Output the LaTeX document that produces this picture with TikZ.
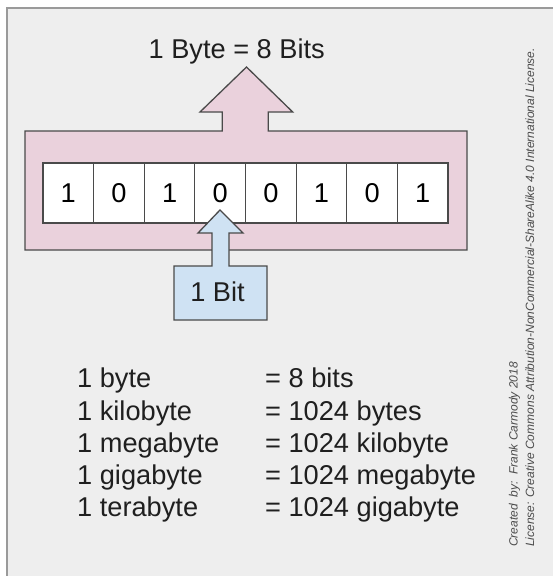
\documentclass[tikz,border=0pt]{standalone}
\usepackage{fontspec}
\setmainfont{Liberation Sans}
\definecolor{bggray}{HTML}{EEEEEE}
\definecolor{framegray}{HTML}{9A9A9A}
\definecolor{pinkfill}{HTML}{EAD1DC}
\definecolor{bluefill}{HTML}{CFE2F3}
\definecolor{edgegray}{HTML}{4A4A4A}
\tikzset{
  shapeline/.style={draw=edgegray, line width=1.3pt, line join=miter},
  cellbox/.style={draw=edgegray, line width=1.1pt, fill=white, minimum width=50.625pt, minimum height=60pt, inner sep=0pt, font=\fontsize{27.2}{31}\selectfont},
  bigtext/.style={inner sep=0pt, font=\fontsize{27.2}{31}\selectfont, text=black!88},
  credit/.style={inner sep=0pt, rotate=90, anchor=base west, font=\fontsize{12}{14}\selectfont\itshape, text=black!70}
}
\begin{document}
\begin{tikzpicture}[x=1pt,y=-1pt]
\useasboundingbox (0,0) rectangle (552,576);
\fill[white] (0,0) rectangle (552,576);
% frame
\fill[bggray] (7,8) rectangle (560,590);
\draw[framegray, line width=2pt] (7,590) -- (7,8) -- (560,8);
% pink byte arrow + box
\draw[shapeline, fill=pinkfill] (25,131) -- (222.3,131) -- (222.3,112) -- (200,112) -- (246.5,67) -- (292.7,112) -- (268.3,112) -- (268.3,131) -- (467,131) -- (467,250) -- (25,250) -- cycle;
% bit cells
\foreach \d [count=\i] in {1,0,1,0,0,1,0,1} {
  \node[cellbox] (c\i) at ({43+50.625*(\i-0.5)},193) {\d};
}
% blue bit arrow + box
\draw[shapeline, fill=bluefill] (174,266) -- (212,266) -- (212,233) -- (198,233) -- (220,210) -- (243,233) -- (229,233) -- (229,266) -- (267,266) -- (267,320) -- (174,320) -- cycle;
\node[bigtext] (bit) at (217.5,292) {1 Bit};
% title
\node[bigtext, anchor=base] (title) at (236.7,58) {1 Byte = 8 Bits};
% table
\foreach \a/\b [count=\k] in {1 byte/= 8 bits, 1 kilobyte/= 1024 bytes, 1 megabyte/= 1024 kilobyte, 1 gigabyte/= 1024 megabyte, 1 terabyte/= 1024 gigabyte} {
  \node[bigtext, anchor=base west] (l\k) at (77,{387.7+32.3*(\k-1)}) {\a};
  \node[bigtext, anchor=base west] (r\k) at (265,{387.7+32.3*(\k-1)}) {\b};
}
% credits
\node[credit] (cred1) at (517.5,547) {Created\ \ by:\ \ Frank Carmody 2018};
\node[credit] (cred2) at (534,547) {License: Creative Commons Attribution-NonCommercial-ShareAlike 4.0 International License.};
\end{tikzpicture}
\end{document}
